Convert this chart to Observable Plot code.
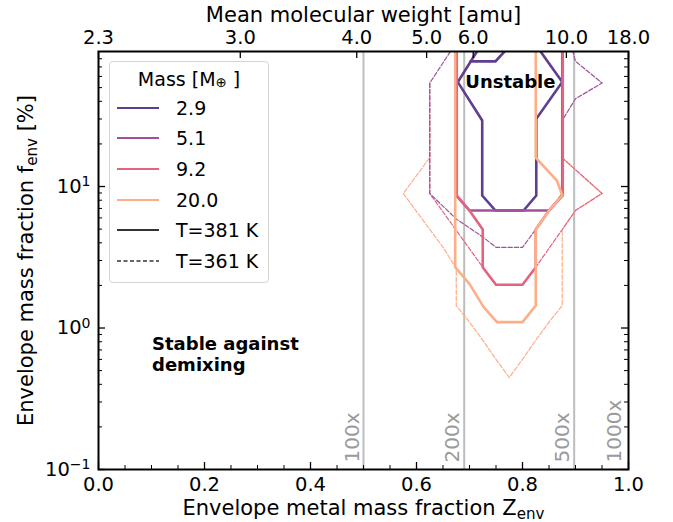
<!DOCTYPE html>
<html>
<head>
<meta charset="utf-8">
<script src="https://cdn.jsdelivr.net/npm/d3@7"></script>
<script src="https://cdn.jsdelivr.net/npm/@observablehq/plot@0.6"></script>
<style>
  html, body { margin: 0; padding: 0; background: #fff; }
  #wrap { position: relative; width: 673px; height: 522px; font-family: "DejaVu Sans", sans-serif; }
  #legend { position: absolute; left: 109px; top: 61px; width: 158px; padding: 0 0 6px 0;
            background: rgba(255,255,255,0.85); border: 1px solid #d4d4d4; border-radius: 4px;
            font-size: 19px; color: #000; }
  #legend .title { text-align: center; margin: 6px 0 2px 0; }
  #legend .row { display: flex; align-items: center; height: 30.7px; }
  #legend svg { margin-left: 6px; margin-right: 16px; }
</style>
</head>
<body>
<div id="wrap"><div id="legend"></div></div>
<script>
// Planet masses (Earth masses) and their line colours
const masses = ["2.9", "5.1", "9.2", "20.0"];
const massColors = ["#5f3e8f", "#a1519b", "#e3647f", "#fdae86"];
const temps = ["T=381 K", "T=361 K"];

// Stability boundaries: vertices as [Z_env, f_env (%)], T = 381 K
const hot_2_9 = [[0.714, 90], [0.678, 54.7], [0.724, 29.3], [0.724, 8.64], [0.749, 6.77], [0.802, 6.77], [0.826, 8.64], [0.826, 30.1], [0.875, 54.7], [0.834, 90]];
const hot_2_9_top = [[0.702, 76.7], [0.749, 76.7], [0.766, 90]];
const hot_5_1 = [[0.675, 90], [0.675, 8.64], [0.70, 6.77], [0.85, 6.77], [0.875, 8.64], [0.875, 90]];
const hot_9_2 = [[0.676, 90], [0.676, 8.64], [0.70, 6.77], [0.725, 4.97], [0.725, 2.69], [0.75, 2.02], [0.80, 2.02], [0.825, 2.69], [0.825, 4.97], [0.85, 6.77], [0.876, 8.64], [0.876, 90]];
const hot_20_0 = [[0.673, 90], [0.673, 2.69], [0.70, 2.05], [0.727, 1.40], [0.752, 1.10], [0.80, 1.10], [0.825, 1.44], [0.825, 4.97], [0.85, 6.77], [0.875, 8.64], [0.865, 11.0], [0.825, 16.0], [0.825, 90]];
// T = 361 K
const cool_5_1 = [[0.664, 90], [0.625, 53.9], [0.625, 8.93], [0.675, 5.9], [0.725, 4.4], [0.75, 3.72], [0.80, 3.72], [0.825, 4.97], [0.85, 6.77], [0.875, 8.93], [0.875, 29.3], [0.90, 41.7], [0.95, 53.9], [0.90, 76.7], [0.895, 90]];
const cool_9_2 = [[0.625, 53.9], [0.625, 8.93], [0.725, 2.69], [0.75, 2.02], [0.80, 2.02], [0.825, 2.69], [0.875, 4.97], [0.90, 6.77], [0.95, 8.93], [0.877, 15.7], [0.877, 29.3]];
const cool_20_0 = [[0.625, 29.3], [0.625, 16.0], [0.575, 8.93], [0.65, 3.72], [0.675, 2.64], [0.675, 1.44], [0.70, 1.10], [0.725, 0.82], [0.75, 0.60], [0.775, 0.447], [0.80, 0.60], [0.825, 0.82], [0.85, 1.10], [0.875, 1.44], [0.875, 4.97], [0.90, 6.77], [0.95, 8.93], [0.877, 15.7], [0.877, 29.3]];

// Metallicity reference lines (times solar)
const metalZ = [0.5, 0.69, 0.8975];
const metalLabelZ = [0.5, 0.69, 0.8975, 0.995];
const metalLabels = ["100x", "200x", "500x", "1000x"];

// Axis ticks
const xTicks = [0, 0.2, 0.4, 0.6, 0.8, 1.0];
const yMajor = [0.1, 1, 10];
const muTicks = [2.3, 3.0, 4.0, 5.0, 6.0, 10.0, 18.0];

// Mean molecular weight of an H/He envelope (mu = 2.3) mixed with water (mu = 18)
const muToZ = mu => (1 / 2.3 - 1 / mu) / (1 / 2.3 - 1 / 18);

const contours = [
  {pts: hot_2_9, m: 0, T: 0}, {pts: hot_2_9_top, m: 0, T: 0},
  {pts: hot_5_1, m: 1, T: 0}, {pts: hot_9_2, m: 2, T: 0}, {pts: hot_20_0, m: 3, T: 0},
  {pts: cool_20_0, m: 3, T: 1}, {pts: cool_9_2, m: 2, T: 1}, {pts: cool_5_1, m: 1, T: 1}
];
const rows = contours.flatMap((c, i) => c.pts.map(([Z, f]) => ({Z, f, id: i, m: c.m, T: c.T})));
const solidRows = rows.filter(d => d.T === 0);
const dashedRows = rows.filter(d => d.T === 1);

const xMinor = d3.range(0, 1.0001, 0.05).map(v => +v.toFixed(3));
const yMinor = [];
for (const e of [0.1, 1, 10]) for (let k = 2; k <= 9; k++) if (e * k <= 90) yMinor.push(e * k);

const W = 673, H = 522, mL = 98, mR = 45, mT = 51, mB = 53;
const fh = H - mT - mB, fw = W - mL - mR;
const tickFont = 19.5, titleFont = 21;

const chart = Plot.plot({
  width: W, height: H,
  marginLeft: mL, marginRight: mR, marginTop: mT, marginBottom: mB,
  style: {fontFamily: "DejaVu Sans, sans-serif", background: "#fff", overflow: "visible"},
  x: {domain: [0, 1], axis: null},
  y: {type: "log", domain: [0.1, 90], axis: null},
  color: {domain: [0, 1, 2, 3], range: massColors},
  marks: [
    // metallicity guides
    Plot.ruleX(metalZ, {x: d => d, stroke: "#bdbdbd", strokeWidth: 2}),
    Plot.text(metalLabelZ, {x: d => d, text: (d, i) => metalLabels[i], frameAnchor: "bottom", dy: -7, dx: -5,
      rotate: -90, textAnchor: "start", lineAnchor: "bottom", fill: "#9a9a9a", fontSize: 20}),
    // stability boundaries
    Plot.line(dashedRows, {x: "Z", y: "f", z: "id", stroke: d => d.m, strokeWidth: 1.2,
      strokeDasharray: "4.4,1.9", clip: true}),
    Plot.line(solidRows, {x: "Z", y: "f", z: "id", stroke: d => d.m, strokeWidth: 2.6, clip: true}),
    // annotations
    Plot.text(["Unstable"], {x: 0.692, y: 49.8, text: d => d, textAnchor: "start", lineAnchor: "bottom",
      fontWeight: "bold", fontSize: 18}),
    Plot.text(["Stable against", "demixing"], {x: 0.101, y: (d, i) => [0.70, 0.50][i], text: d => d,
      textAnchor: "start", lineAnchor: "bottom", fontWeight: "bold", fontSize: 18}),
    // frame
    Plot.frame({stroke: "#000", strokeWidth: 2}),
    // bottom axis (ticks inward)
    Plot.tickX(xTicks, {x: d => d, insetTop: fh - 7, stroke: "#000", strokeWidth: 1.3}),
    Plot.tickX(xMinor, {x: d => d, insetTop: fh - 4, stroke: "#000", strokeWidth: 1}),
    Plot.text(xTicks, {x: d => d, frameAnchor: "bottom", lineAnchor: "bottom", dy: 21, text: d => d.toFixed(1), fontSize: tickFont}),
    // top axis: mean molecular weight
    Plot.tickX(muTicks, {x: muToZ, insetBottom: fh - 7, stroke: "#000", strokeWidth: 1.3}),
    Plot.text(muTicks, {x: muToZ, frameAnchor: "top", lineAnchor: "bottom", dy: -8, text: d => d.toFixed(1), fontSize: tickFont}),
    // left / right axis (ticks inward)
    Plot.tickY(yMajor, {y: d => d, insetRight: fw - 7, stroke: "#000", strokeWidth: 1.3}),
    Plot.tickY(yMinor, {y: d => d, insetRight: fw - 4, stroke: "#000", strokeWidth: 1}),
    Plot.tickY(yMajor, {y: d => d, insetLeft: fw - 7, stroke: "#000", strokeWidth: 1.3}),
    Plot.tickY(yMinor, {y: d => d, insetLeft: fw - 4, stroke: "#000", strokeWidth: 1}),
    Plot.text(yMajor, {y: d => d, frameAnchor: "left", dx: -8, textAnchor: "end", lineAnchor: "middle",
      text: d => "10^" + Math.round(Math.log10(d)), fontSize: tickFont}),
    // axis titles
    Plot.text(["Envelope metal mass fraction Z_env"], {frameAnchor: "bottom", lineAnchor: "bottom", dy: 45,
      textAnchor: "middle", text: d => d, fontSize: titleFont}),
    Plot.text(["Envelope mass fraction f_env [%]"], {frameAnchor: "left", dx: -72, rotate: -90,
      textAnchor: "middle", lineAnchor: "middle", text: d => d, fontSize: titleFont}),
    Plot.text(["Mean molecular weight [amu]"], {frameAnchor: "top", lineAnchor: "bottom", dy: -30,
      textAnchor: "middle", text: d => d, fontSize: titleFont})
  ]
});

// superscripts and subscripts in text labels
d3.select(chart).selectAll("text").each(function () {
  const t = this.textContent;
  if (t.includes("^")) {
    const [base, sup] = t.split("^");
    this.textContent = base;
    d3.select(this).append("tspan").attr("dy", "-0.45em").attr("font-size", "0.72em").text(sup.replace("-", "\u2212"));
  } else if (t.includes("_env")) {
    const [pre, post] = t.split("_env");
    this.textContent = pre;
    d3.select(this).append("tspan").attr("dy", "0.28em").attr("font-size", "0.72em").text("env");
    if (post) d3.select(this).append("tspan").attr("dy", "-0.2em").text(post);
  }
});
d3.select(chart).selectAll("path").attr("stroke-linejoin", "miter");

const wrap = document.getElementById("wrap");
wrap.insertBefore(chart, wrap.firstChild);

// legend
const legend = d3.select("#legend");
legend.append("div").attr("class", "title").html('Mass [M<sub style="font-size:0.7em;vertical-align:-0.1em">⊕</sub> ]');
const entries = masses.map((m, i) => ({label: m, color: massColors[i], dash: null}))
  .concat(temps.map((t, i) => ({label: t, color: "#333", dash: i ? "4,2.5" : null})));
for (const e of entries) {
  const row = legend.append("div").attr("class", "row");
  const s = row.append("svg").attr("width", 44).attr("height", 10);
  s.append("line").attr("x1", 1).attr("x2", 43).attr("y1", 5).attr("y2", 5)
    .attr("stroke", e.color).attr("stroke-width", e.dash ? 1.3 : 2.2).attr("stroke-dasharray", e.dash);
  row.append("span").text(e.label);
}
</script>
</body>
</html>
